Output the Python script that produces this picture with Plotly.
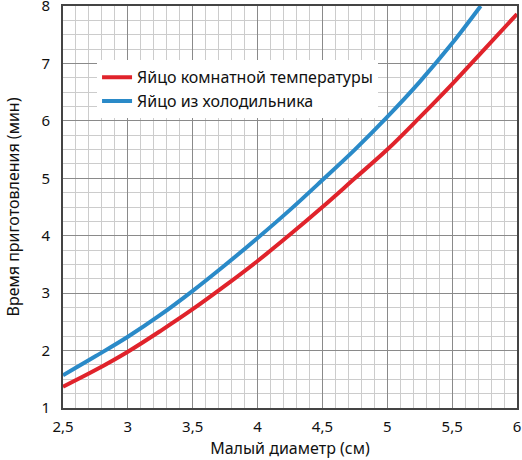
import plotly.graph_objects as go

# Малый диаметр яйца (см) и время варки (мин)
room_x = [2.5, 2.75, 3.0, 3.25, 3.5, 3.75, 4.0, 4.25, 4.5, 4.75, 5.0, 5.25, 5.5, 5.75, 6.0]
room_y = [1.37, 1.66, 1.98, 2.34, 2.72, 3.13, 3.56, 4.02, 4.5, 5.0, 5.5, 6.06, 6.64, 7.25, 7.86]

fridge_x = [2.5, 2.75, 3.0, 3.25, 3.5, 3.75, 4.0, 4.25, 4.5, 4.75, 5.0, 5.25, 5.5, 5.72]
fridge_y = [1.57, 1.9, 2.24, 2.62, 3.04, 3.49, 3.96, 4.45, 4.97, 5.5, 6.07, 6.68, 7.35, 8.0]

x_ticks = [2.5, 3, 3.5, 4, 4.5, 5, 5.5, 6]
y_ticks = [1, 2, 3, 4, 5, 6, 7, 8]

font_name = "Noto Sans"

fig = go.Figure()
fig.add_trace(go.Scatter(x=room_x, y=room_y, mode="lines", line_shape="spline",
                         name="Яйцо комнатной температуры",
                         line=dict(color="#e0232b", width=4)))
fig.add_trace(go.Scatter(x=fridge_x, y=fridge_y, mode="lines", line_shape="spline",
                         name="Яйцо из холодильника",
                         line=dict(color="#2a8ac8", width=4)))

fig.update_layout(
    width=522, height=460,
    margin=dict(l=63, r=5, t=6, b=52, autoexpand=False),
    plot_bgcolor="white", paper_bgcolor="white",
    separators=", ",
    showlegend=True,
    font=dict(family=font_name, size=15, color="#111"),
    legend=dict(x=0.075, y=0.865, xanchor="left", yanchor="top",
                bgcolor="white", font=dict(size=16), tracegroupgap=6),
    xaxis=dict(range=[2.5, 6], tickvals=x_ticks, ticks="", automargin=False,
               ticklabeloverflow="allow", ticklabelstandoff=4,
               showline=True, linecolor="#444", linewidth=2, mirror=True,
               showgrid=True, gridcolor="#8a8a8a", gridwidth=1,
               minor=dict(dtick=0.1, showgrid=True, gridcolor="#cccccc", gridwidth=1),
               title=dict(text="Малый диаметр (см)", font=dict(size=16), standoff=8),
               zeroline=False),
    yaxis=dict(range=[1, 8], tickvals=y_ticks, ticks="", automargin=False,
               ticklabeloverflow="allow", ticklabelstandoff=8,
               showline=True, linecolor="#444", linewidth=2, mirror=True,
               showgrid=True, gridcolor="#8a8a8a", gridwidth=1,
               minor=dict(dtick=0.25, showgrid=True, gridcolor="#cccccc", gridwidth=1),
               title=dict(text="Время приготовления (мин)", font=dict(size=16), standoff=18),
               zeroline=False),
)

fig.write_html("out.html", config={"displayModeBar": False},
               post_script="document.body.style.margin='0';")
